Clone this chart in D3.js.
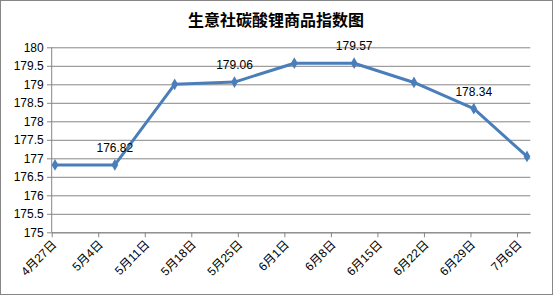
<!DOCTYPE html>
<html>
<head>
<meta charset="utf-8">
<script src="https://cdn.jsdelivr.net/npm/d3@7"></script>
<style>
  body { margin: 0; background: #fff; }
  text { font-family: "Liberation Sans", Arial, "Noto Sans CJK SC", sans-serif; }
</style>
</head>
<body>
<div id="VisContainer"></div>
<script>
// data
dates = ["2023-04-27","2023-05-06","2023-05-15","2023-05-24","2023-06-02","2023-06-11","2023-06-20","2023-06-29","2023-07-07"];
values = [176.82, 176.82, 179.00, 179.06, 179.57, 179.57, 179.05, 178.34, 177.05];
labelled = [1, 3, 5, 7];
yTicks = [175, 175.5, 176, 176.5, 177, 177.5, 178, 178.5, 179, 179.5, 180];
title = "生意社碳酸锂商品指数图";

lineColor = "#4a7ebb";
gridColor = "#868686";

W = 555; H = 296;
margin = {top: 47.3, right: 24.7, bottom: 63.7, left: 51.7};
width = W - margin.left - margin.right;
height = H - margin.top - margin.bottom;

parse = d3.timeParse("%Y-%m-%d");
dataset = dates.map(function(d, i){ return {date: parse(d), value: values[i], i: i}; });

start = parse("2023-04-27");
end = d3.timeDay.offset(parse(dates[dates.length-1]), 1);

x = d3.scaleTime().domain([start, end]).range([0, width]);
y = d3.scaleLinear().domain([175, 180]).range([height, 0]);

// points sit in the middle of their day slot
px = function(d){ return x(d3.timeHour.offset(d.date, 12)); };

svgRoot = d3.select("#VisContainer").append("svg")
  .attr("width", W).attr("height", H);

svgRoot.append("rect")
  .attr("x", 0.5).attr("y", 0.5)
  .attr("width", 552).attr("height", 294)
  .attr("fill", "#fff").attr("stroke", gridColor);

svgRoot.append("text")
  .attr("x", 276).attr("y", 26)
  .attr("text-anchor", "middle")
  .style("font-family", "'Noto Sans CJK SC', sans-serif")
  .style("font-size", "16px").style("font-weight", "bold")
  .attr("fill", "#000")
  .text(title);

svg = svgRoot.append("g")
  .attr("transform", "translate(" + margin.left + "," + margin.top + ")");

// horizontal gridlines + y axis
yAxis = svg.append("g")
  .call(d3.axisLeft(y).tickValues(yTicks).tickSize(-width).tickSizeOuter(0).tickPadding(8)
        .tickFormat(function(d){ return d3.format("")(d); }));
yAxis.select(".domain").remove();
yAxis.selectAll(".tick line").attr("stroke", gridColor).attr("x1", -4.7);
yAxis.selectAll(".tick text").style("font-size", "12px").attr("fill", "#000");

svg.append("line")
  .attr("x1", 0).attr("x2", 0).attr("y1", 0).attr("y2", height)
  .attr("stroke", gridColor);

// x axis, weekly ticks
weekTicks = d3.timeDay.range(start, end, 7);
xAxis = svg.append("g")
  .attr("transform", "translate(0," + height + ")")
  .call(d3.axisBottom(x).tickValues(weekTicks).tickSize(5).tickSizeOuter(0)
        .tickFormat(d3.timeFormat("%-m月%-d日")));
xAxis.select(".domain").attr("stroke", gridColor);
xAxis.selectAll(".tick line").attr("stroke", gridColor);
xAxis.selectAll(".tick text")
  .style("font-size", "12px").attr("fill", "#000")
  .attr("text-anchor", "end")
  .attr("dy", null).attr("y", 0)
  .attr("transform", "translate(5,13) rotate(-45)");

// series line
line = d3.line().x(px).y(function(d){ return y(d.value); });
svg.append("path")
  .datum(dataset)
  .attr("fill", "none")
  .attr("stroke", lineColor)
  .attr("stroke-width", 3)
  .attr("stroke-linejoin", "round")
  .attr("d", line);

svg.selectAll("path.marker")
  .data(dataset)
  .enter().append("path")
  .attr("class", "marker")
  .attr("d", d3.symbol().type(d3.symbolDiamond).size(40))
  .attr("fill", lineColor)
  .attr("transform", function(d){ return "translate(" + px(d) + "," + y(d.value) + ")"; });

svg.selectAll("text.vlabel")
  .data(dataset.filter(function(d){ return labelled.indexOf(d.i) >= 0; }))
  .enter().append("text")
  .attr("class", "vlabel")
  .attr("x", px)
  .attr("y", function(d){ return y(d.value) - 13; })
  .attr("text-anchor", "middle")
  .style("font-size", "12px")
  .attr("fill", "#000")
  .text(function(d){ return d3.format(".2f")(d.value); });
</script>
</body>
</html>
